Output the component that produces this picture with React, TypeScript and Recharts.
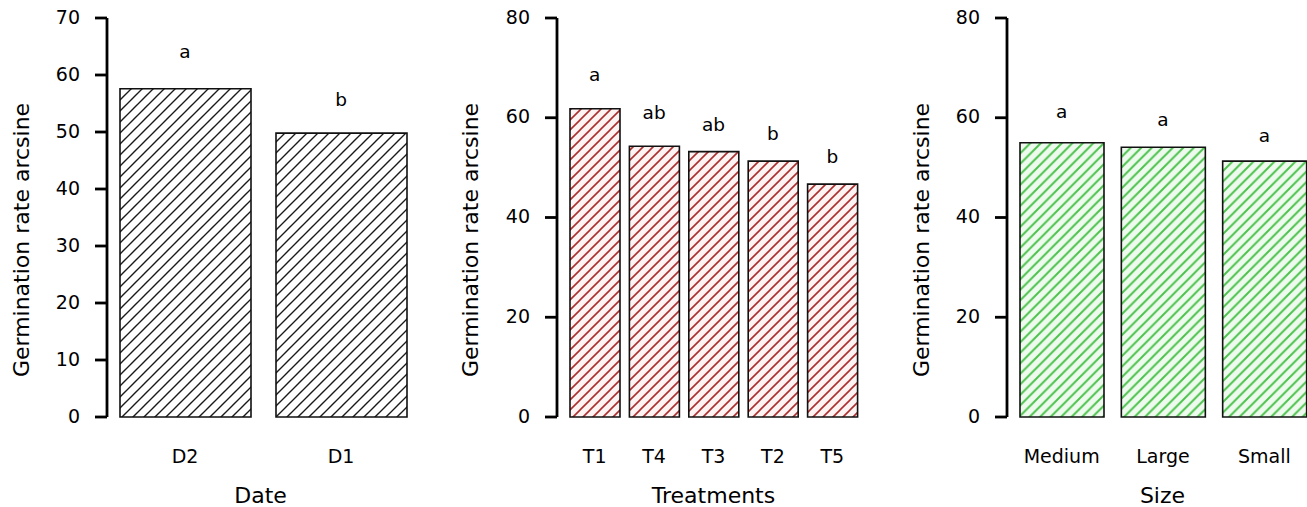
import React from 'react';
import { ComposedChart, Bar, Line, XAxis, YAxis, LabelList } from 'recharts';

// ---- Data ----
const dateCats = ['D2', 'D1'];
const dateValues = [57.6, 49.8];
const dateLetters = ['a', 'b'];
const dateLetterPos = [64.1, 55.7];
const dateTicks = [0, 10, 20, 30, 40, 50, 60, 70];

const treatCats = ['T1', 'T4', 'T3', 'T2', 'T5'];
const treatValues = [61.8, 54.3, 53.2, 51.3, 46.7];
const treatLetters = ['a', 'ab', 'ab', 'b', 'b'];
const treatLetterPos = [68.5, 60.9, 58.5, 56.7, 52.2];
const treatTicks = [0, 20, 40, 60, 80];

const sizeCats = ['Medium', 'Large', 'Small'];
const sizeValues = [55.0, 54.1, 51.3];
const sizeLetters = ['a', 'a', 'a'];
const sizeLetterPos = [61.2, 59.5, 56.4];
const sizeTicks = [0, 20, 40, 60, 80];

const yTitle = 'Germination rate arcsine';

const FONT = '"DejaVu Sans", Verdana, sans-serif';

function build(cats: string[], vals: number[], letters: string[], pos: number[]) {
  return cats.map((c, i) => ({ name: c, v: vals[i], letter: letters[i], ly: pos[i] }));
}

const YTitle = (props: any) => {
  const { tx, ty } = props;
  return (
    <text
      x={tx}
      y={ty}
      transform={`rotate(-90 ${tx} ${ty})`}
      textAnchor="middle"
      fontSize={22}
      fontFamily={FONT}
      fill="#000"
    >
      {yTitle}
    </text>
  );
};

const XTitle = (props: any) => {
  const { tx, ty, text } = props;
  return (
    <text x={tx} y={ty} textAnchor="middle" fontSize={22} fontFamily={FONT} fill="#000">
      {text}
    </text>
  );
};

const YTick = (props: any) => {
  const { x, y, payload } = props;
  return (
    <text x={x} y={y + 5.5} textAnchor="end" fontSize={19} fontFamily={FONT} fill="#000">
      {payload.value}
    </text>
  );
};

const XTick = (props: any) => {
  const { x, payload } = props;
  return (
    <text x={x} y={463} textAnchor="middle" fontSize={19} fontFamily={FONT} fill="#000">
      {payload.value}
    </text>
  );
};

const LetterLabel = (props: any) => {
  const { x, y, value } = props;
  return (
    <text x={x} y={y + 6} textAnchor="middle" fontSize={18.5} fontFamily={FONT} fill="#000">
      {value}
    </text>
  );
};

type PanelProps = {
  left: number;
  width: number;
  yAxisWidth: number;
  padLeft: number;
  barSize: number;
  data: any[];
  yMax: number;
  ticks: number[];
  id: string;
  hatchColor: string;
  hatchBg: string;
  hatchWidth: number;
  hatchSpacing: number;
  xTitle: string;
  xTitleX: number;
  yTitleX: number;
};

const Panel = (p: PanelProps) => {
  const s = p.hatchSpacing;
  return (
    <div style={{ position: 'absolute', left: p.left, top: 0 }}>
      <ComposedChart
        width={p.width}
        height={507}
        data={p.data}
        margin={{ top: 18, right: 0, bottom: 0, left: 0 }}
      >
        <defs>
          <pattern id={p.id} patternUnits="userSpaceOnUse" width={s} height={s}>
            <rect x={0} y={0} width={s} height={s} fill={p.hatchBg} />
            <path
              d={`M0,${s} L${s},0 M${-s / 2},${s / 2} L${s / 2},${-s / 2} M${s / 2},${s * 1.5} L${s * 1.5},${s / 2}`}
              stroke={p.hatchColor}
              strokeWidth={p.hatchWidth}
            />
          </pattern>
        </defs>
        <XAxis
          dataKey="name"
          type="category"
          axisLine={false}
          tickLine={false}
          tickSize={0}
          tickMargin={34}
          height={90}
          interval={0}
          padding={{ left: p.padLeft, right: 0 }}
          tick={<XTick />}
          label={<XTitle tx={p.xTitleX} ty={503} text={p.xTitle} />}
        />
        <YAxis
          type="number"
          domain={[0, p.yMax]}
          ticks={p.ticks}
          interval={0}
          width={p.yAxisWidth}
          tickSize={12}
          tickMargin={15}
          stroke="#000"
          strokeWidth={2.8}
          axisLine={{ stroke: '#000', strokeWidth: 2.8 }}
          tickLine={{ stroke: '#000', strokeWidth: 2.8 }}
          tick={<YTick />}
          label={<YTitle tx={p.yTitleX} ty={240} />}
        />
        <Bar
          dataKey="v"
          barSize={p.barSize}
          fill={`url(#${p.id})`}
          stroke="#111"
          strokeWidth={1.6}
          isAnimationActive={false}
        />
        <Line
          dataKey="ly"
          stroke="none"
          dot={false}
          activeDot={false}
          legendType="none"
          isAnimationActive={false}
        >
          <LabelList dataKey="letter" position="center" content={<LetterLabel />} />
        </Line>
      </ComposedChart>
    </div>
  );
};

export default function App() {
  return (
    <div
      style={{
        position: 'absolute',
        left: 0,
        top: 0,
        width: 1307,
        height: 507,
        overflow: 'hidden',
        background: '#fff',
        fontFamily: FONT,
      }}
    >
      <style>{`
        .recharts-cartesian-axis-line, .recharts-cartesian-axis-tick-line {
          stroke: #000 !important;
          stroke-width: 2.8px !important;
        }
      `}</style>
      <Panel
        left={0}
        width={419}
        yAxisWidth={107}
        padLeft={0}
        barSize={131}
        data={build(dateCats, dateValues, dateLetters, dateLetterPos)}
        yMax={70}
        ticks={dateTicks}
        id="hatchBlack"
        hatchColor="#1a1a1a"
        hatchBg="#fff"
        hatchWidth={1.4}
        hatchSpacing={11}
        xTitle="Date"
        xTitleX={260.5}
        yTitleX={29}
      />
      <Panel
        left={440}
        width={422}
        yAxisWidth={117}
        padLeft={8}
        barSize={50}
        data={build(treatCats, treatValues, treatLetters, treatLetterPos)}
        yMax={80}
        ticks={treatTicks}
        id="hatchRed"
        hatchColor="#ad2e2e"
        hatchBg="#fdf3f3"
        hatchWidth={1.6}
        hatchSpacing={10}
        xTitle="Treatments"
        xTitleX={273.5}
        yTitleX={38}
      />
      <Panel
        left={890}
        width={425}
        yAxisWidth={117}
        padLeft={4}
        barSize={84}
        data={build(sizeCats, sizeValues, sizeLetters, sizeLetterPos)}
        yMax={80}
        ticks={sizeTicks}
        id="hatchGreen"
        hatchColor="#4cc24c"
        hatchBg="#effaef"
        hatchWidth={2}
        hatchSpacing={10.5}
        xTitle="Size"
        xTitleX={272.5}
        yTitleX={39}
      />
    </div>
  );
}
